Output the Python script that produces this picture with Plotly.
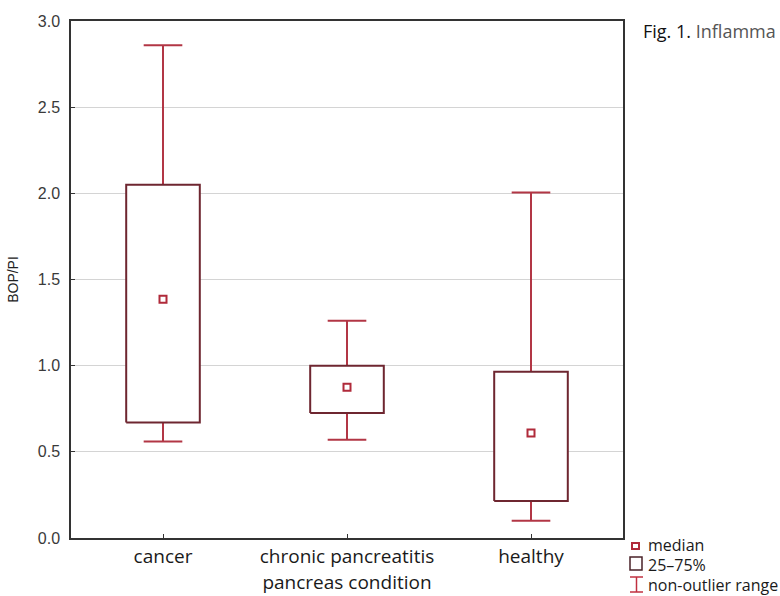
import plotly.graph_objects as go

# Summary statistics of BOP/PI per pancreas condition
categories = ["cancer", "chronic pancreatitis", "healthy"]
whisker_low = [0.56, 0.57, 0.10]
q1 = [0.67, 0.725, 0.215]
median = [1.385, 0.875, 0.61]
q3 = [2.05, 1.00, 0.965]
whisker_high = [2.86, 1.26, 2.005]
y_ticks = [0.0, 0.5, 1.0, 1.5, 2.0, 2.5, 3.0]
y_tick_labels = ["0.0", "0.5", "1.0", "1.5", "2.0", "2.5", "3.0"]

BOX_COLOR = "#6e2630"
WHISKER_COLOR = "#b23645"
MEDIAN_COLOR = "#b02a3a"
BOX_HALF = 0.2
CAP_HALF = 0.105
TEXT_FONT = "Open Sans"

fig = go.Figure()

for i, cat in enumerate(categories):
    # whiskers with caps
    fig.add_trace(go.Scatter(
        x=[i, i, None, i, i, None, i - CAP_HALF, i + CAP_HALF, None, i - CAP_HALF, i + CAP_HALF],
        y=[q3[i], whisker_high[i], None, q1[i], whisker_low[i], None,
           whisker_high[i], whisker_high[i], None, whisker_low[i], whisker_low[i]],
        mode="lines", line=dict(color=WHISKER_COLOR, width=2),
        hoverinfo="skip", showlegend=False))
    # 25-75% box
    fig.add_trace(go.Scatter(
        x=[i - BOX_HALF, i + BOX_HALF, i + BOX_HALF, i - BOX_HALF, i - BOX_HALF],
        y=[q1[i], q1[i], q3[i], q3[i], q1[i]],
        mode="lines", line=dict(color=BOX_COLOR, width=2),
        fill="toself", fillcolor="white",
        hoverinfo="skip", showlegend=False))

# medians
fig.add_trace(go.Scatter(
    x=list(range(len(categories))), y=median, mode="markers",
    marker=dict(symbol="square-open", size=7, color=MEDIAN_COLOR, line=dict(width=2)),
    showlegend=False, hoverinfo="y"))

# key below the right side of the plot
def px_x(v):
    return (v - 71) / 552


def px_y(v):
    return (538 - v) / 517


fig.add_shape(type="rect", xref="paper", yref="paper",
              x0=px_x(632), x1=px_x(639), y0=px_y(549), y1=px_y(543),
              line=dict(color=MEDIAN_COLOR, width=2))
fig.add_shape(type="rect", xref="paper", yref="paper",
              x0=px_x(630), x1=px_x(642), y0=px_y(570), y1=px_y(557),
              line=dict(color="#4a2228", width=1.5))
for x0, y0, x1, y1 in [(636.5, 577, 636.5, 592), (630, 577, 643, 577), (630, 592, 643, 592)]:
    fig.add_shape(type="line", xref="paper", yref="paper",
                  x0=px_x(x0), x1=px_x(x1), y0=px_y(y0), y1=px_y(y1),
                  line=dict(color="#c03040", width=1.5))
for label, yc in [("median", 545), ("25–75%", 565), ("non-outlier range", 585)]:
    fig.add_annotation(text=label, xref="paper", yref="paper",
                       x=px_x(646), y=px_y(yc),
                       xanchor="left", yanchor="middle", showarrow=False,
                       font=dict(family=TEXT_FONT, size=16, color="#1a1a1a"))

fig.add_annotation(
    text="<span style='color:#111'>Fig. 1.</span> <span style='color:#555'>Inflamma</span>",
    xref="paper", yref="paper", x=px_x(641), y=px_y(31),
    xanchor="left", yanchor="middle", showarrow=False,
    font=dict(family=TEXT_FONT, size=18))

fig.update_layout(
    width=780, height=596,
    margin=dict(l=71, r=157, t=21, b=58),
    paper_bgcolor="white", plot_bgcolor="white",
    xaxis=dict(
        range=[-0.5, 2.5], tickmode="array", automargin=False,
        tickvals=list(range(len(categories))), ticktext=categories,
        ticks="inside", ticklen=4, tickcolor="#333",
        showgrid=False, zeroline=False,
        showline=True, linecolor="#333", linewidth=1.5, mirror=True,
        tickfont=dict(family=TEXT_FONT, size=19, color="#1a1a1a"),
        title=dict(text="pancreas condition", standoff=8,
                   font=dict(family=TEXT_FONT, size=19, color="#1a1a1a")),
    ),
    yaxis=dict(
        range=[0, 3], tickmode="array", tickvals=y_ticks, ticktext=y_tick_labels,
        automargin=False,
        ticks="inside", ticklen=4, tickcolor="#333", ticklabelstandoff=6,
        showgrid=True, gridcolor="#d4d4d4", gridwidth=1, zeroline=False,
        showline=True, linecolor="#333", linewidth=1.5, mirror=True,
        tickfont=dict(family="Arial, Liberation Sans", size=16, color="#3a3a3a"),
        title=dict(text="BOP/PI", standoff=16,
                   font=dict(family="Arial, Liberation Sans", size=14, color="#222")),
    ),
)

fig.write_html("out.html")
